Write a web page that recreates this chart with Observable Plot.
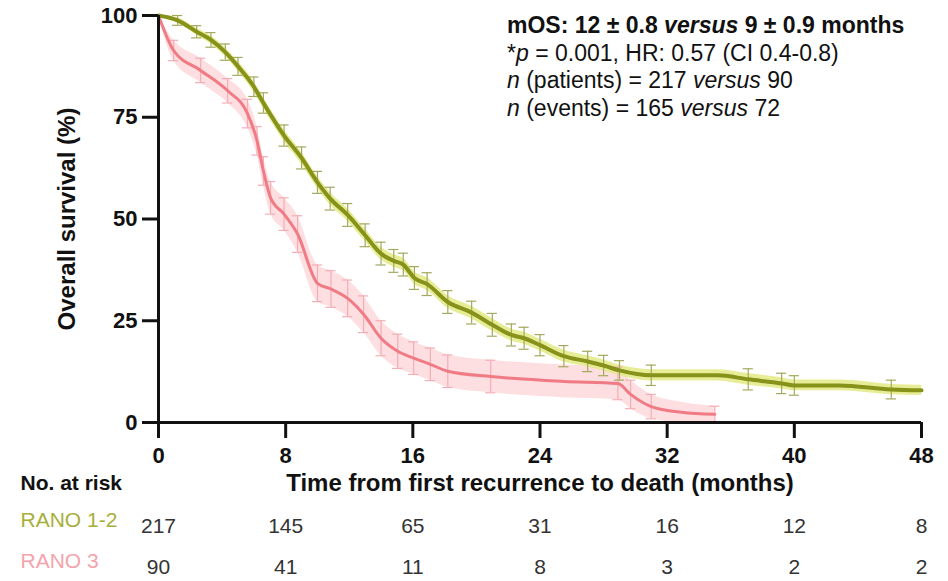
<!DOCTYPE html>
<html><head><meta charset="utf-8">
<script src="https://cdn.jsdelivr.net/npm/d3@7"></script>
<script src="https://cdn.jsdelivr.net/npm/@observablehq/plot@0.6"></script>
<style>body{margin:0;background:#fff}#chart{width:948px;height:581px}</style>
</head><body><div id="chart"></div>
<script>
// RANO 1-2 survival curve (time in months, survival %)
const greenT = [0,1.2,2.4,3.3,4.2,5,6,6.6,7.9,9,10,10.8,11.9,13,14,14.8,15.4,16.1,16.9,18.2,19.7,21,22.2,23,24,25.5,27,28,29,31,35.2,37.1,39.2,40,42.8,46.1,48];
const greenS = [100,98.8,96,94,91,87.5,82.5,78.5,70.5,65,59,55,51,46,41.5,39.7,38.8,35.5,34,29.6,27,24,21.5,20.7,19,16.3,15,14,12.8,11.6,11.6,10.6,9.6,9.1,9.1,8.1,7.9];
const greenErr = [0,1.2,1.5,1.8,2,2.2,2.4,2.5,2.6,2.7,2.7,2.8,2.8,2.8,2.8,2.8,2.8,2.8,2.8,2.8,2.8,2.8,2.7,2.7,2.6,2.6,2.5,2.5,2.4,2.5,2.5,2.6,2.5,2.4,2.4,2.3,2.3];
const greenNoBar = [0,35.2,42.8,48];
// RANO 3 survival curve
const pinkT = [0,0.95,2.65,4.35,5.6,6.2,6.6,7.05,7.9,8.75,10,10.85,11.9,12.9,14,15.05,16.05,17.1,18.2,20.9,25.5,28.9,29.7,31,32.9,35];
const pinkS = [100,91.4,86.5,81.5,75.9,69.2,61.8,55.2,51.2,46.3,34.2,32.8,30.5,26.6,20.7,17.5,15.8,14.3,12.6,11.3,10.1,9.6,6.9,3.9,2.5,2];
const pinkErr = [0,2.5,3,3,3.5,3.5,3.5,4,4,4.5,4.5,4.5,4.5,4.5,4.3,4.2,4,4,4,4,4,4,3.5,3,2.5,2];
const pinkNoBar = [0,25.5,32.9];

const xTicks = [0,8,16,24,32,40,48];
const yTicks = [0,25,50,75,100];
const groups = ["RANO 1-2","RANO 3"];
const riskRano12 = [217,145,65,31,16,12,8];
const riskRano3 = [90,41,11,8,3,2,2];
const xLabel = "Time from first recurrence to death (months)";
const yLabel = "Overall survival (%)";
const riskTitle = "No. at risk";

const colG = "#86921a", colGBand = "#e4ea8c", colGBar = "#a4a95e";
const colP = "#f07b84", colPBand = "#fcd6d9", colPBar = "#f4adb4";
const colGLab = "#a8ae3a", colPLab = "#f4a3ab";

const green = greenT.map((t,i)=>({t, s:greenS[i], e:greenErr[i], bar: !greenNoBar.includes(t)}));
const pink = pinkT.map((t,i)=>({t, s:pinkS[i], e:pinkErr[i], bar: !pinkNoBar.includes(t)}));
const gBars = green.filter(d=>d.bar), pBars = pink.filter(d=>d.bar);
const cap = 0.32;
const risk12 = xTicks.map((t,i)=>({t, n:riskRano12[i]}));
const risk3 = xTicks.map((t,i)=>({t, n:riskRano3[i]}));
const font = "Liberation Sans, Arial, sans-serif";

const plot = Plot.plot({
  width: 948, height: 581,
  marginLeft: 158, marginRight: 27, marginTop: 15, marginBottom: 159,
  style: {fontFamily: font, background: "#fff", overflow: "visible"},
  x: {domain: [0,48], ticks: xTicks},
  y: {domain: [0,100], ticks: yTicks},
  marks: [
    Plot.areaY(pink, {x:"t", y1:d=>Math.max(0,d.s-d.e), y2:d=>d.s+d.e, fill:colPBand, fillOpacity:0.8, curve:"monotone-x"}),
    Plot.areaY(green, {x:"t", y1:d=>d.s-d.e*0.55, y2:d=>d.s+d.e*0.55, fill:colGBand, fillOpacity:0.9, curve:"monotone-x"}),
    Plot.ruleX(pBars, {x:"t", y1:d=>d.s-d.e, y2:d=>d.s+d.e, stroke:colPBar, strokeWidth:1.2}),
    Plot.ruleY(pBars, {y:d=>d.s+d.e, x1:d=>d.t-cap, x2:d=>d.t+cap, stroke:colPBar, strokeWidth:1.2}),
    Plot.ruleY(pBars, {y:d=>d.s-d.e, x1:d=>d.t-cap, x2:d=>d.t+cap, stroke:colPBar, strokeWidth:1.2}),
    Plot.ruleX(gBars, {x:"t", y1:d=>d.s-d.e, y2:d=>d.s+d.e, stroke:colGBar, strokeWidth:1.2}),
    Plot.ruleY(gBars, {y:d=>d.s+d.e, x1:d=>d.t-cap, x2:d=>d.t+cap, stroke:colGBar, strokeWidth:1.2}),
    Plot.ruleY(gBars, {y:d=>d.s-d.e, x1:d=>d.t-cap, x2:d=>d.t+cap, stroke:colGBar, strokeWidth:1.2}),
    Plot.lineY(pink, {x:"t", y:"s", stroke:colP, strokeWidth:3, curve:"monotone-x"}),
    Plot.lineY(green, {x:"t", y:"s", stroke:colG, strokeWidth:4, curve:"monotone-x"}),
    Plot.ruleX([0], {stroke:"#111", strokeWidth:3}),
    Plot.ruleY([0], {stroke:"#111", strokeWidth:3}),
    Plot.axisX({ticks:xTicks, tickSize:16, tickPadding:9, strokeWidth:3, stroke:"#111", fontSize:22, fontWeight:"bold", fill:"#111", label:null}),
    Plot.axisY({ticks:yTicks, tickSize:16, tickPadding:5, strokeWidth:3, stroke:"#111", fontSize:22, fontWeight:"bold", fill:"#111", label:null}),
    Plot.text([xLabel], {frameAnchor:"bottom", dy:68, fontSize:24, fontWeight:"bold", fill:"#111"}),
    Plot.text([yLabel], {frameAnchor:"left", dx:-91, rotate:-90, textAnchor:"middle", fontSize:24, fontWeight:"bold", fill:"#111"}),
    Plot.text([riskTitle], {frameAnchor:"bottom-left", dx:-138, dy:67, textAnchor:"start", fontSize:21, fontWeight:"bold", fill:"#111"}),
    Plot.text([groups[0]], {frameAnchor:"bottom-left", dx:-138, dy:104, textAnchor:"start", fontSize:21, fill:colGLab}),
    Plot.text([groups[1]], {frameAnchor:"bottom-left", dx:-138, dy:145, textAnchor:"start", fontSize:21, fill:colPLab}),
    Plot.text(risk12, {x:"t", y:()=>0, dy:104, text:"n", fontSize:21, fill:"#333"}),
    Plot.text(risk3, {x:"t", y:()=>0, dy:145, text:"n", fontSize:21, fill:"#333"})
  ]
});

const svg = d3.select(plot);
// make axis ticks thick like the reference
svg.selectAll('g[aria-label="x-axis tick"], g[aria-label="y-axis tick"]').attr("stroke-width", 3);
svg.selectAll('g[aria-label="x-axis tick"] path, g[aria-label="y-axis tick"] path').attr("stroke-width", 3);
document.getElementById("chart").appendChild(plot);

// annotation block
const ann = svg.append("g").attr("font-family", font).attr("font-size", 23).attr("fill", "#111").attr("text-anchor", "start");
const lines = [
  [["mOS: 12 ± 0.8 ","bold",""],["versus","bold","italic"],[" 9 ± 0.9 months","bold",""]],
  [["*","normal",""],["p","normal","italic"],[" = 0.001, HR: 0.57 (CI 0.4-0.8)","normal",""]],
  [["n","normal","italic"],[" (patients) = 217 ","normal",""],["versus","normal","italic"],[" 90","normal",""]],
  [["n","normal","italic"],[" (events) = 165 ","normal",""],["versus","normal","italic"],[" 72","normal",""]]
];
const baselines = [33, 61, 88, 116];
lines.forEach((parts, i) => {
  const t = ann.append("text").attr("x", 507).attr("y", baselines[i]).attr("xml:space","preserve");
  parts.forEach(([s, w, st]) => {
    const ts = t.append("tspan").text(s).attr("font-weight", w);
    if (st) ts.attr("font-style", st);
  });
});
</script>
</body></html>
